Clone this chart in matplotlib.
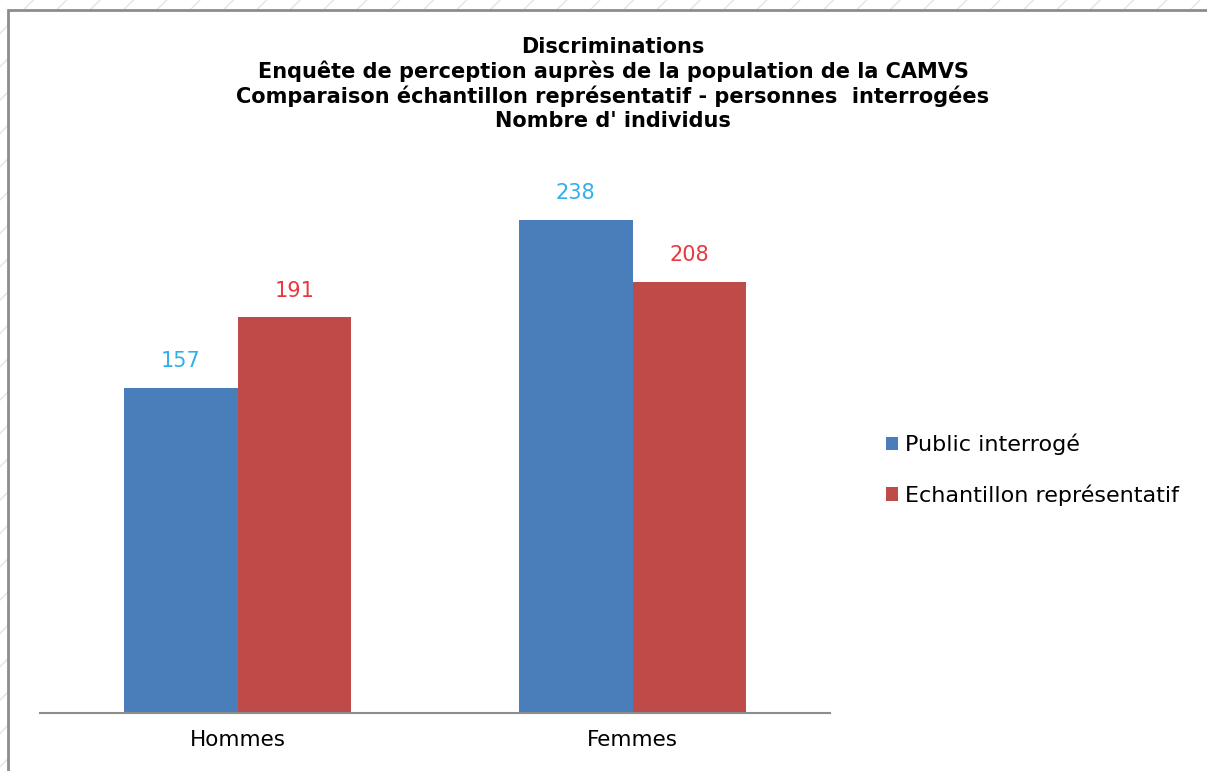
import numpy as np
import matplotlib.pyplot as plt
from matplotlib.patches import Rectangle

categories = ['Hommes', 'Femmes']
public = [157, 238]
echantillon = [191, 208]
series_names = ['Public interrogé', 'Echantillon représentatif']
title = ("Discriminations\n"
         "Enquête de perception auprès de la population de la CAMVS\n"
         "Comparaison échantillon représentatif - personnes  interrogées\n"
         "Nombre d' individus")

W, H = 1207, 771
fig = plt.figure(figsize=(W / 100, H / 100), dpi=100)

# hatched background outside the chart frame
fig.patches.append(Rectangle((0, 0), 1, 1, transform=fig.transFigure,
                             facecolor='white', edgecolor='#e4e4e4', hatch='/', lw=0, zorder=-3))
fig.patches.append(Rectangle((8 / W, -0.1), 1.1, (H - 10) / H + 0.1, transform=fig.transFigure,
                             facecolor='white', edgecolor='#8c8c8c', lw=2, zorder=-2))

ax = fig.add_axes([40 / W, 58 / H, 790 / W, 518 / H])
x = np.arange(len(categories))
w = 0.2875
b1 = ax.bar(x - w / 2, public, w, color='#4a7ebb', label=series_names[0])
b2 = ax.bar(x + w / 2, echantillon, w, color='#be4b48', label=series_names[1])

for rect, v in zip(b1, public):
    ax.text(rect.get_x() + rect.get_width() / 2, v + 8, str(v), ha='center', va='bottom',
            color='#2fb0ec', fontsize=15)
for rect, v in zip(b2, echantillon):
    ax.text(rect.get_x() + rect.get_width() / 2, v + 8, str(v), ha='center', va='bottom',
            color='#e8383f', fontsize=15)

ax.set_xlim(-0.5, 1.5)
ax.set_ylim(0, 250)
ax.set_xticks(x)
ax.set_xticklabels(categories, fontsize=15.5)
ax.tick_params(axis='x', length=0, pad=12)
ax.set_yticks([])
for s in ['top', 'right', 'left']:
    ax.spines[s].set_visible(False)
ax.spines['bottom'].set_color('#8c8c8c')
ax.spines['bottom'].set_linewidth(1.5)

fig.text(613 / W, 1 - 84 / H, title, ha='center', va='center', fontsize=15,
         fontweight='bold', linespacing=1.2)

fig.legend(handles=[b1, b2], labels=series_names, loc='upper left',
           bbox_to_anchor=(866 / W, 1 - 414 / H), frameon=False, fontsize=16,
           handlelength=0.55, handleheight=0.55, handletextpad=0.3, labelspacing=1.3)

fig.savefig('out.png', dpi=100, facecolor='white')
